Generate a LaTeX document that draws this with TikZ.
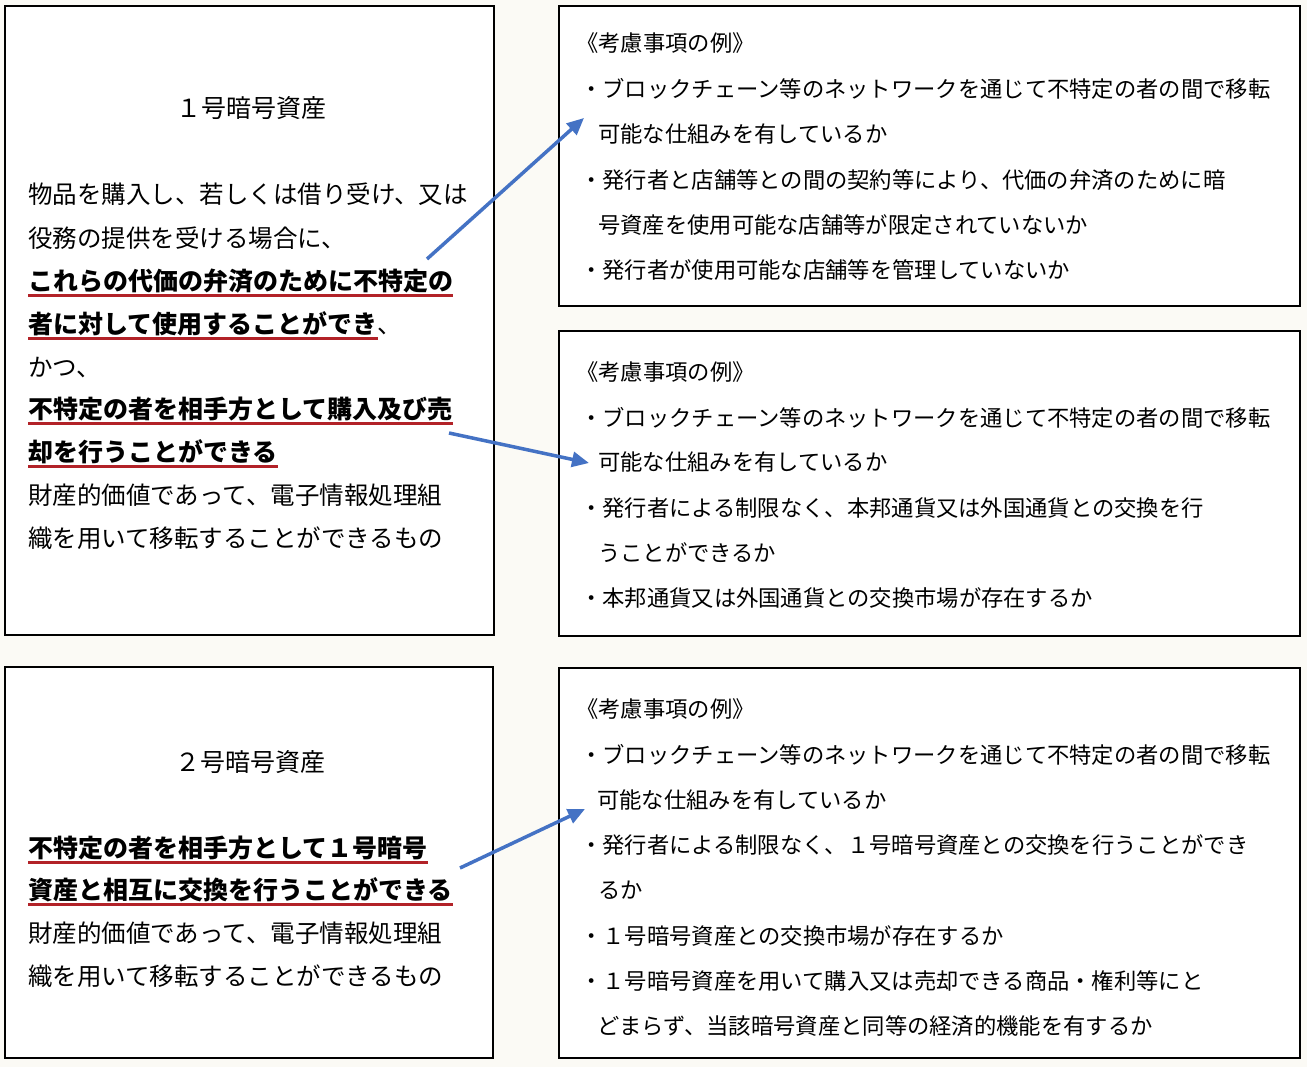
\documentclass[tikz,border=0pt]{standalone}
\usepackage{fontspec}
\setmainfont{Noto Sans CJK JP}
\usetikzlibrary{arrows.meta}
\definecolor{bg}{RGB}{251,250,245}
\definecolor{arrowblue}{RGB}{68,114,196}
\definecolor{ulred}{RGB}{178,34,40}
\begin{document}
\begin{tikzpicture}[x=1pt,y=-1pt,
  box/.style={draw=black,line width=2pt,fill=white,rectangle,inner sep=0pt},
  ltxt/.style={anchor=base west,inner sep=0pt,font=\fontsize{24.5}{30}\selectfont},
  lbold/.style={anchor=base west,inner sep=0pt,font=\fontsize{25}{30}\selectfont\bfseries},
  ttl/.style={anchor=base,inner sep=0pt,font=\fontsize{25}{30}\selectfont},
  rtxt/.style={anchor=base west,inner sep=0pt,font=\fontsize{22.3}{28}\selectfont},
  ul/.style={draw=ulred,line width=2.5pt},
  conn/.style={draw=arrowblue,line width=3.5pt,-{Triangle[length=17pt,width=15pt]}}]
\fill[bg] (0,0) rectangle (1307,1067);
% boxes
\node[box,minimum width=489pt,minimum height=629pt] (L1) at (249.5,320.5) {};
\node[box,minimum width=741pt,minimum height=300pt] (R1) at (929.5,156) {};
\node[box,minimum width=741pt,minimum height=305pt] (R2) at (929.5,483.5) {};
\node[box,minimum width=488pt,minimum height=391pt] (L2) at (249,862.5) {};
\node[box,minimum width=741pt,minimum height=390pt] (R3) at (929.5,863) {};
% left box 1
\node[ttl] (t1) at (251,117.5) {１号暗号資産};
\node[ltxt] (l1a) at (28,203.5) {物品を購入し、若しくは借り受け、又は};
\node[ltxt] (l1b) at (28,247.5) {役務の提供を受ける場合に、};
\node[lbold] (l1c) at (28,290.5) {これらの代価の弁済のために不特定の};
\node[lbold] (l1d) at (28,333.5) {者に対して使用することができ};
\node[ltxt,anchor=base west] (l1d2) at (l1d.base east) {、};
\node[ltxt] (l1e) at (28,376.5) {かつ、};
\node[lbold] (l1f) at (28,418.5) {不特定の者を相手方として購入及び売};
\node[lbold] (l1g) at (28,461.5) {却を行うことができる};
\node[ltxt] (l1h) at (28,504.5) {財産的価値であって、電子情報処理組};
\node[ltxt] (l1i) at (28,547.5) {織を用いて移転することができるもの};
\foreach \n in {l1c,l1d,l1f,l1g}
  \draw[ul] ([yshift=-5pt]\n.base west) -- ([yshift=-5pt]\n.base east);
% left box 2
\node[ttl] (t2) at (250,771.5) {２号暗号資産};
\node[lbold] (l2a) at (28,857.5) {不特定の者を相手方として１号暗号};
\node[lbold] (l2b) at (28,899.5) {資産と相互に交換を行うことができる};
\node[ltxt] (l2c) at (28,942.5) {財産的価値であって、電子情報処理組};
\node[ltxt] (l2d) at (28,985.5) {織を用いて移転することができるもの};
\foreach \n in {l2a,l2b}
  \draw[ul] ([yshift=-5pt]\n.base west) -- ([yshift=-5pt]\n.base east);
% right box 1
\node[rtxt] (r1a) at (576,51.5) {《考慮事項の例》};
\node[rtxt] (r1b) at (580,97.5) {・ブロックチェーン等のネットワークを通じて不特定の者の間で移転};
\node[rtxt] (r1c) at (598,142.5) {可能な仕組みを有しているか};
\node[rtxt] (r1d) at (580,188.5) {・発行者と店舗等との間の契約等により、代価の弁済のために暗};
\node[rtxt] (r1e) at (598,233.5) {号資産を使用可能な店舗等が限定されていないか};
\node[rtxt] (r1f) at (580,278.5) {・発行者が使用可能な店舗等を管理していないか};
% right box 2
\node[rtxt] (r2a) at (576,380.5) {《考慮事項の例》};
\node[rtxt] (r2b) at (580,426.5) {・ブロックチェーン等のネットワークを通じて不特定の者の間で移転};
\node[rtxt] (r2c) at (598,470.5) {可能な仕組みを有しているか};
\node[rtxt] (r2d) at (580,516.5) {・発行者による制限なく、本邦通貨又は外国通貨との交換を行};
\node[rtxt] (r2e) at (598,561.5) {うことができるか};
\node[rtxt] (r2f) at (580,606.5) {・本邦通貨又は外国通貨との交換市場が存在するか};
% right box 3
\node[rtxt] (r3a) at (576,717.5) {《考慮事項の例》};
\node[rtxt] (r3b) at (580,763.5) {・ブロックチェーン等のネットワークを通じて不特定の者の間で移転};
\node[rtxt] (r3c) at (597,808.5) {可能な仕組みを有しているか};
\node[rtxt] (r3d) at (580,853.5) {・発行者による制限なく、１号暗号資産との交換を行うことができ};
\node[rtxt] (r3e) at (598,898.5) {るか};
\node[rtxt] (r3f) at (580,944.5) {・１号暗号資産との交換市場が存在するか};
\node[rtxt] (r3g) at (580,989.5) {・１号暗号資産を用いて購入又は売却できる商品・権利等にと};
\node[rtxt] (r3h) at (597,1034.5) {どまらず、当該暗号資産と同等の経済的機能を有するか};
% connectors
\coordinate (a1s) at (427,259);
\coordinate (a1e) at (584,118);
\coordinate (a2s) at (449,433);
\coordinate (a2e) at (589,463);
\coordinate (a3s) at (460,868);
\coordinate (a3e) at (585,809);
\draw[conn] (a1s) -- (a1e);
\draw[conn] (a2s) -- (a2e);
\draw[conn] (a3s) -- (a3e);
\end{tikzpicture}
\end{document}
